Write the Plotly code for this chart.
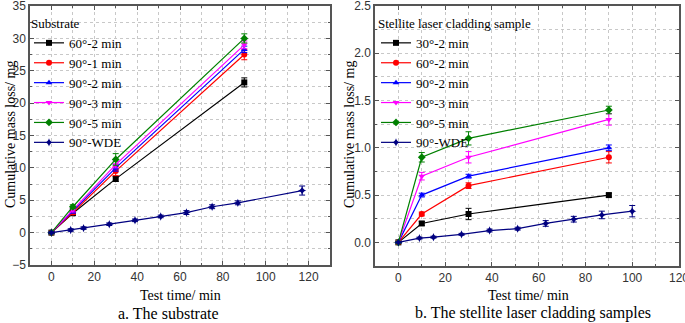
import plotly.graph_objects as go

# ---------------- data: (a) substrate ----------------
sub_names = ["60°-2 min", "90°-1 min", "90°-2 min", "90°-3 min", "90°-5 min"]
sub_x = [0, 10, 30, 90]
sub_60_2 = [0, 3.0, 8.3, 23.2]
sub_90_1 = [0, 3.1, 9.5, 27.5]
sub_90_2 = [0, 3.3, 10.0, 28.3]
sub_90_3 = [0, 3.5, 10.5, 29.0]
sub_90_5 = [0, 4.0, 11.3, 30.0]
sub_60_2_err = [0.1, 0.3, 0.4, 0.7]
sub_90_1_err = [0.1, 0.3, 0.7, 0.8]
sub_90_2_err = [0.1, 0.3, 0.5, 0.5]
sub_90_3_err = [0.1, 0.3, 0.5, 0.6]
sub_90_5_err = [0.1, 0.3, 0.9, 0.7]
sub_wde_x = [0, 9, 15, 27, 39, 51, 63, 75, 87, 117]
sub_wde = [0, 0.4, 0.7, 1.3, 1.9, 2.5, 3.1, 4.0, 4.6, 6.5]
sub_wde_err = [0.1, 0.2, 0.2, 0.2, 0.2, 0.2, 0.3, 0.3, 0.3, 0.7]

# ---------------- data: (b) stellite laser cladding ----------------
cl_names = ["30°-2 min", "60°-2 min", "90°-2 min", "90°-3 min", "90°-5 min"]
cl_x = [0, 10, 30, 90]
cl_30_2 = [0, 0.2, 0.3, 0.5]
cl_60_2 = [0, 0.3, 0.6, 0.9]
cl_90_2 = [0, 0.5, 0.7, 1.0]
cl_90_3 = [0, 0.7, 0.9, 1.3]
cl_90_5 = [0, 0.9, 1.1, 1.4]
cl_30_2_err = [0.005, 0.02, 0.06, 0.02]
cl_60_2_err = [0.005, 0.02, 0.03, 0.06]
cl_90_2_err = [0.005, 0.02, 0.02, 0.03]
cl_90_3_err = [0.005, 0.04, 0.06, 0.06]
cl_90_5_err = [0.005, 0.05, 0.07, 0.04]
cl_wde_x = [0, 9, 15, 27, 39, 51, 63, 75, 87, 100]
cl_wde = [0, 0.045, 0.055, 0.085, 0.125, 0.145, 0.2, 0.245, 0.29, 0.33]
cl_wde_err = [0.005, 0.01, 0.01, 0.01, 0.015, 0.015, 0.03, 0.03, 0.04, 0.06]

colors = ["#000000", "#FF0000", "#0000FF", "#FF00FF", "#008000"]
symbols = ["square", "circle", "triangle-up", "triangle-down", "diamond"]
wde_color = "#000080"

fig = go.Figure()

def add_series(x, y, err, name, color, symbol, xa, ya, legend):
    fig.add_trace(go.Scatter(
        x=x, y=y, name=name, mode="lines+markers",
        line=dict(color=color, width=1.2),
        marker=dict(color=color, symbol=symbol, size=6),
        error_y=dict(type="data", array=err, color=color, thickness=1, width=3),
        xaxis=xa, yaxis=ya, legend=legend))

sub_series = [sub_60_2, sub_90_1, sub_90_2, sub_90_3, sub_90_5]
sub_errs = [sub_60_2_err, sub_90_1_err, sub_90_2_err, sub_90_3_err, sub_90_5_err]
for i in range(5):
    add_series(sub_x, sub_series[i], sub_errs[i], sub_names[i], colors[i], symbols[i], "x", "y", "legend")
add_series(sub_wde_x, sub_wde, sub_wde_err, "90°-WDE", wde_color, "star-diamond", "x", "y", "legend")

cl_series = [cl_30_2, cl_60_2, cl_90_2, cl_90_3, cl_90_5]
cl_errs = [cl_30_2_err, cl_60_2_err, cl_90_2_err, cl_90_3_err, cl_90_5_err]
for i in range(5):
    add_series(cl_x, cl_series[i], cl_errs[i], cl_names[i], colors[i], symbols[i], "x2", "y2", "legend2")
add_series(cl_wde_x, cl_wde, cl_wde_err, "90°-WDE", wde_color, "star-diamond", "x2", "y2", "legend2")

W, H = 685, 323
def fx(px):
    return px / W
def fy(py):
    return 1 - py / H

axis_common = dict(
    showline=True, linecolor="#555555", linewidth=1.5, mirror="allticks",
    ticks="inside", ticklen=4, tickcolor="#555555",
    showgrid=True, gridcolor="#c8c8c8", griddash="dot", gridwidth=1,
    zeroline=False, automargin=False, ticklabeloverflow="allow",
    tickfont=dict(family="Liberation Sans, Arial", size=12, color="#333333"),
)
minor_common = dict(ticks="inside", ticklen=2, tickcolor="#555555", showgrid=True,
                    gridcolor="#c8c8c8", griddash="dot", gridwidth=1)

fig.update_layout(
    width=W, height=H, margin=dict(l=0, r=0, t=0, b=0, autoexpand=False),
    paper_bgcolor="white", plot_bgcolor="white",
    font=dict(family="Liberation Serif, Times New Roman, serif", color="#000000"),
    xaxis=dict(domain=[fx(30), fx(330)], range=[-10, 130], dtick=20, tick0=0,
               minor=dict(dtick=10, **minor_common), anchor="y", **axis_common),
    yaxis=dict(domain=[fy(265), fy(6)], range=[-5, 35], dtick=5, tick0=0,
               minor=dict(dtick=2.5, **minor_common), anchor="x", **axis_common),
    xaxis2=dict(domain=[fx(375), fx(679)], range=[-10, 120], dtick=20, tick0=0,
                minor=dict(dtick=10, **minor_common), anchor="y2", **axis_common),
    yaxis2=dict(domain=[fy(266), fy(6)], range=[-0.25, 2.5], dtick=0.5, tick0=0,
                tickformat=".1f",
                minor=dict(dtick=0.25, **minor_common), anchor="x2", **axis_common),
    legend=dict(x=fx(29), y=fy(11), xanchor="left", yanchor="top",
                bgcolor="rgba(0,0,0,0)", tracegroupgap=0, itemwidth=30,
                title=dict(text="Substrate", font=dict(size=13)),
                font=dict(size=13, family="Liberation Serif, Times New Roman, serif")),
    legend2=dict(x=fx(376), y=fy(11), xanchor="left", yanchor="top",
                 bgcolor="rgba(0,0,0,0)", tracegroupgap=0, itemwidth=30,
                 title=dict(text="Stellite laser cladding sample", font=dict(size=13)),
                 font=dict(size=13, family="Liberation Serif, Times New Roman, serif")),
    showlegend=True,
)

ann_font = dict(family="Liberation Serif, Times New Roman, serif", size=14, color="#000000")
cap_font = dict(family="Liberation Serif, Times New Roman, serif", size=16, color="#000000")
def ann(text, px, py, font, angle=0):
    fig.add_annotation(text=text, textangle=angle, x=fx(px), y=fy(py),
                       xref="paper", yref="paper", xanchor="center", yanchor="middle",
                       showarrow=False, font=font)

ann("Cumulative mass loss/ mg", 11, 135, ann_font, -90)
ann("Cumulative mass loss/ mg", 350, 135, ann_font, -90)
ann("Test time/ min", 180, 295, ann_font)
ann("Test time/ min", 528, 295, ann_font)
ann("a. The substrate", 168, 313, cap_font)
ann("b. The stellite laser cladding samples", 533, 313, cap_font)

# remove the browser's default 8px body margin so the figure fills the window
fig.write_html("out.html", config={"displayModeBar": False},
               post_script="document.body.style.margin='0px';")
